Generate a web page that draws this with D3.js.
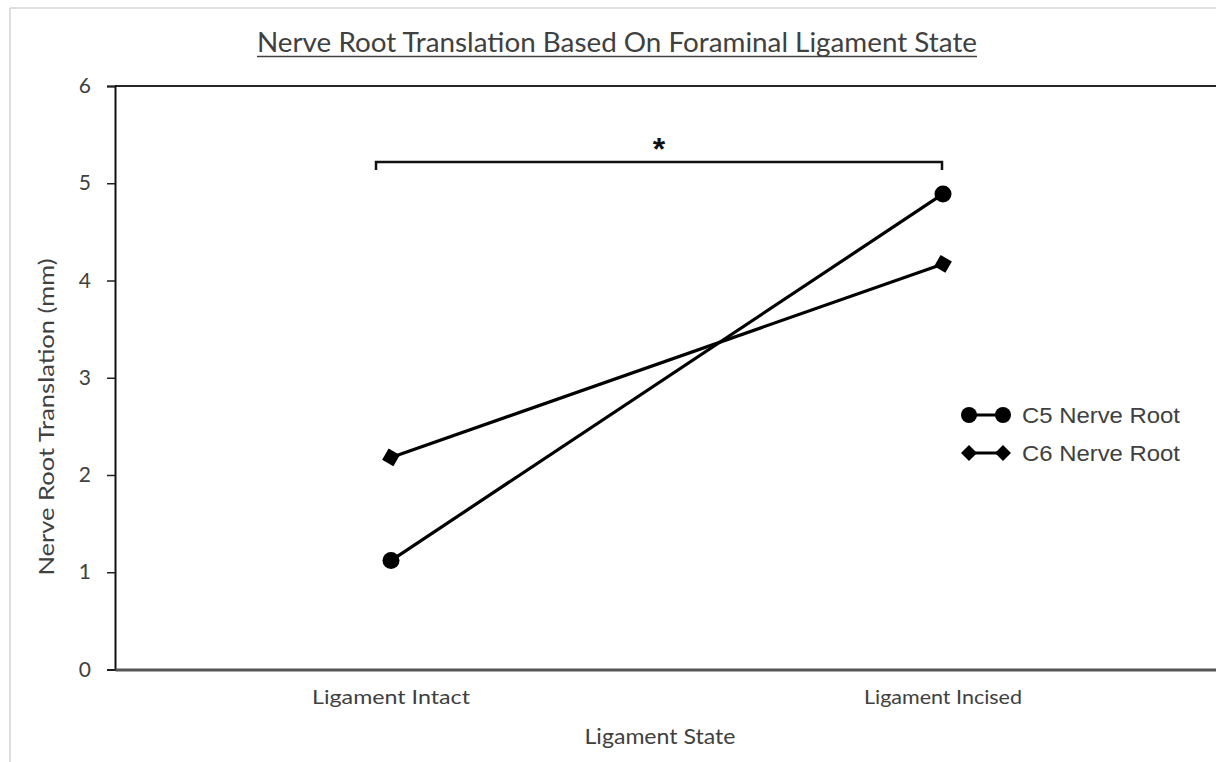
<!DOCTYPE html>
<html><head><meta charset="utf-8">
<script src="https://cdn.jsdelivr.net/npm/d3@7/dist/d3.min.js"></script>
<style>body{margin:0;background:#fff}svg{display:block}</style>
</head><body>
<svg id="c" width="1216" height="762"></svg>
<script>
const categories = ["Ligament Intact", "Ligament Incised"];
const c5Values = [1.12, 4.89];
const c6Values = [2.18, 4.17];
const seriesNames = ["C5 Nerve Root", "C6 Nerve Root"];
const yTicks = [0, 1, 2, 3, 4, 5, 6];
const sigLabel = "*";

const svg = d3.select("#c");
const W = 1216, H = 762;
const m = {l: 115, t: 86, r: 1219, b: 669.5};
const x = d3.scaleBand().domain(categories).range([m.l, m.r]);
const cx = d => x(d) + x.bandwidth() / 2;
const y = d3.scaleLinear().domain([0, 6]).range([m.b, m.t]);
const txt = "#404040";

// outer frame
svg.append("line").attr("x1", 10).attr("x2", W).attr("y1", 8).attr("y2", 8).attr("stroke", "#d4d4d4").attr("stroke-width", 1.5);
svg.append("line").attr("x1", 10).attr("x2", 10).attr("y1", 8).attr("y2", H).attr("stroke", "#d4d4d4").attr("stroke-width", 1.5);

// title
svg.append("text").attr("x", 617).attr("y", 52).attr("text-anchor", "middle")
  .attr("font-family", "Lato, 'Open Sans', sans-serif").attr("font-size", 27).attr("fill", txt)
  .attr("textLength", 720).attr("lengthAdjust", "spacingAndGlyphs")
  .text("Nerve Root Translation Based On Foraminal Ligament State");
svg.append("line").attr("x1", 257).attr("x2", 977).attr("y1", 56.5).attr("y2", 56.5).attr("stroke", txt).attr("stroke-width", 1.5);

// top border line
svg.append("line").attr("x1", m.l).attr("x2", W).attr("y1", m.t).attr("y2", m.t).attr("stroke", "#262626").attr("stroke-width", 2);

// y axis
const yAxis = svg.append("g").attr("transform", `translate(${m.l},0)`)
  .call(d3.axisLeft(y).tickValues(yTicks).tickSize(8).tickPadding(16).tickFormat(d3.format("d")));
yAxis.select(".domain").attr("stroke", "#111").attr("stroke-width", 2);
yAxis.selectAll(".tick line").attr("stroke", "#222").attr("stroke-width", 1.5);
yAxis.selectAll(".tick text").attr("font-family", "Lato, sans-serif").attr("font-size", 21).attr("fill", txt);

// x axis
const xAxis = svg.append("g").attr("transform", `translate(0,${m.b})`)
  .call(d3.axisBottom(x).tickSize(0).tickPadding(20));
xAxis.select(".domain").attr("stroke", "#555").attr("stroke-width", 3);
xAxis.selectAll(".tick text").attr("font-family", "Lato, sans-serif").attr("font-size", 20).attr("fill", txt)
  .attr("textLength", 158).attr("lengthAdjust", "spacingAndGlyphs");

// axis titles
svg.append("text").attr("x", 660).attr("y", 744).attr("text-anchor", "middle")
  .attr("font-family", "Lato, sans-serif").attr("font-size", 22).attr("fill", txt)
  .attr("textLength", 151).attr("lengthAdjust", "spacingAndGlyphs").text("Ligament State");
svg.append("text").attr("transform", "translate(54,417) rotate(-90)").attr("text-anchor", "middle")
  .attr("font-family", "Lato, sans-serif").attr("font-size", 22).attr("fill", txt)
  .attr("textLength", 317).attr("lengthAdjust", "spacingAndGlyphs").text("Nerve Root Translation (mm)");

// significance bracket
const bx1 = cx(categories[0]) - 15, bx2 = cx(categories[1]) - 1, by = 162;
svg.append("path").attr("d", `M${bx1},${by + 8}V${by}H${bx2}V${by + 8}`)
  .attr("fill", "none").attr("stroke", "#111").attr("stroke-width", 2.5);
svg.append("text").attr("x", (bx1 + bx2) / 2).attr("y", 160).attr("text-anchor", "middle")
  .attr("font-family", "'Liberation Sans', Arial, sans-serif").attr("font-weight", "bold").attr("font-size", 32).attr("fill", "#111").text(sigLabel);

// lines
const line = d3.line().x((d, i) => cx(categories[i])).y(d => y(d));
[c5Values, c6Values].forEach(vals => {
  svg.append("path").datum(vals).attr("d", line).attr("fill", "none").attr("stroke", "#000").attr("stroke-width", 3.2);
});

const diamond = (g, px, py, s) => g.append("path")
  .attr("d", `M${px},${py - s}L${px + s},${py}L${px},${py + s}L${px - s},${py}Z`).attr("fill", "#000");

// markers
c5Values.forEach((v, i) => svg.append("circle").attr("cx", cx(categories[i])).attr("cy", y(v)).attr("r", 8.5).attr("fill", "#000"));
c6Values.forEach((v, i) => {
  const px = cx(categories[i]), py = y(v);
  svg.append("rect").attr("x", px - 6.5).attr("y", py - 6.5).attr("width", 13).attr("height", 13)
    .attr("transform", `rotate(30,${px},${py})`).attr("fill", "#000");
});

// legend
const lg = svg.append("g");
const lx1 = 969, lx2 = 1003, rows = [415, 453];
lg.append("line").attr("x1", lx1).attr("x2", lx2).attr("y1", rows[0]).attr("y2", rows[0]).attr("stroke", "#000").attr("stroke-width", 3.2);
lg.append("circle").attr("cx", lx1).attr("cy", rows[0]).attr("r", 8).attr("fill", "#000");
lg.append("circle").attr("cx", lx2).attr("cy", rows[0]).attr("r", 8).attr("fill", "#000");
lg.append("line").attr("x1", lx1).attr("x2", lx2).attr("y1", rows[1]).attr("y2", rows[1]).attr("stroke", "#000").attr("stroke-width", 3.2);
diamond(lg, lx1, rows[1], 8);
diamond(lg, lx2, rows[1], 8);
seriesNames.forEach((n, i) => lg.append("text").attr("x", 1022).attr("y", rows[i] + 8)
  .attr("font-family", "'Liberation Sans', Arial, sans-serif").attr("font-size", 22).attr("fill", txt)
  .attr("textLength", 158).attr("lengthAdjust", "spacingAndGlyphs").text(n));
</script>
</body></html>
